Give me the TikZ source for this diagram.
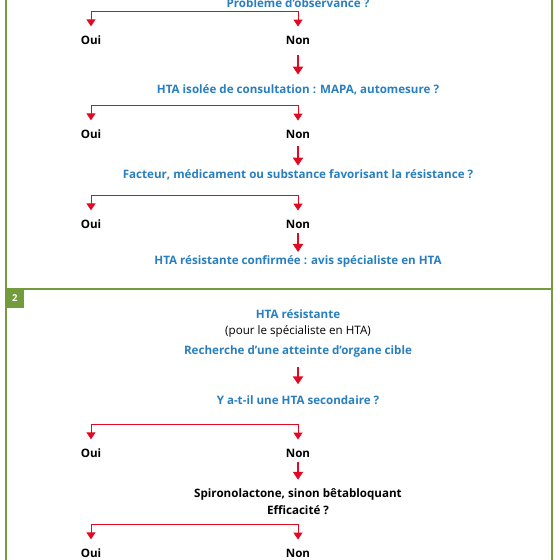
\documentclass[tikz,border=0pt]{standalone}
\usepackage{fontspec}
\setmainfont{Open Sans}
\usepackage{xcolor}
\usepackage{tikz}
\usetikzlibrary{arrows.meta,calc}
\definecolor{htablue}{RGB}{40,126,190}
\definecolor{htared}{RGB}{226,10,35}
\definecolor{htagreen}{RGB}{114,156,60}
\tikzset{>={Triangle[width=9pt,length=7pt]}}
\tikzset{
  question/.style={font=\fontsize{11.6}{13}\selectfont\bfseries,text=htablue,inner sep=0pt},
  answer/.style={font=\fontsize{11.6}{13}\selectfont\bfseries,inner sep=0pt},
  remark/.style={font=\fontsize{11.6}{13}\selectfont,inner sep=0pt},
  fork/.style={color=htared,line width=1pt,->,shorten >=9pt},
  bigarrow/.style={color=htared,line width=2.6pt,-{Triangle[width=10pt,length=8pt]}},
  frame/.style={draw=htagreen,line width=1.6pt}
}

\begin{document}
\begin{tikzpicture}[x=1pt,y=1pt,node distance=207pt]
  \useasboundingbox (0,0) rectangle (560,-560);
  \draw[frame] (6,20) rectangle (552,-289);
  \draw[frame] (6,-289) rectangle (552,-590);
  \node[fill=htagreen,text=white,font=\fontsize{9.5}{10}\selectfont\bfseries,minimum size=18.5pt,inner sep=0pt,anchor=north west] (Two) at (5.5,-289) {2};
  % section 1
  \node[question] (Observance) at (298,-3) {Problème d’observance ?};
  \node[answer,below of=Observance,node distance=37pt] (Non1) {Non};
  \node[answer,left of=Non1] (Oui1) {Oui};
  \node[question,below of=Non1,node distance=50pt] (Isolee) {HTA isolée de consultation : MAPA, automesure ?};
  \node[answer,below of=Isolee,node distance=44pt] (Non2) {Non};
  \node[answer,left of=Non2] (Oui2) {Oui};
  \node[question,below of=Non2,node distance=41pt] (Facteur) {Facteur, médicament ou substance favorisant la résistance ?};
  \node[answer,below of=Facteur,node distance=49pt] (Non3) {Non};
  \node[answer,left of=Non3] (Oui3) {Oui};
  \node[question,below of=Non3,node distance=37pt] (Confirmee) {HTA résistante confirmée : avis spécialiste en HTA};
  % section 2
  \node[question] (Resistante) at (298,-314) {HTA résistante};
  \node[remark,below of=Resistante,node distance=17pt] (Specialiste) {(pour le spécialiste en HTA)};
  \node[question,below of=Specialiste,node distance=20pt] (Organe) {Recherche d’une atteinte d’organe cible};
  \node[question,below of=Organe,node distance=49pt] (Secondaire) {Y a-t-il une HTA secondaire ?};
  \node[answer,below of=Secondaire,node distance=53pt] (Non5) {Non};
  \node[answer,left of=Non5] (Oui5) {Oui};
  \node[answer,below of=Non5,node distance=50pt] (Spiro) {\begin{tabular}{@{}c@{}}Spironolactone, sinon bêtabloquant\\[4pt]Efficacité ?\end{tabular}};
  \node[answer,below of=Spiro,node distance=50pt] (Non6) {Non};
  \node[answer,left of=Non6] (Oui6) {Oui};
  % forks
  \coordinate (F1) at ($(Non1)+(0,29)$);
  \draw[fork] (F1) -| (Oui1);
  \draw[fork] (F1) -- (Non1);
  \coordinate (F2) at ($(Non2)+(0,29)$);
  \draw[fork] (F2) -| (Oui2);
  \draw[fork] (F2) -- (Non2);
  \coordinate (F3) at ($(Non3)+(0,29)$);
  \draw[fork] (F3) -| (Oui3);
  \draw[fork] (F3) -- (Non3);
  \coordinate (F5) at ($(Non5)+(0,29)$);
  \draw[fork] (F5) -| (Oui5);
  \draw[fork] (F5) -- (Non5);
  \coordinate (F6) at ($(Non6)+(0,29)$);
  \draw[fork] (F6) -| (Oui6);
  \draw[fork] (F6) -- (Non6);
  % steps
  \draw[bigarrow,shorten <=11pt,shorten >=10pt] (Non1) -- (Isolee);
  \draw[bigarrow,shorten <=8pt,shorten >=4pt] (Non2) -- (Facteur);
  \draw[bigarrow,shorten <=5pt,shorten >=3pt] (Non3) -- (Confirmee);
  \draw[bigarrow,shorten <=10pt,shorten >=11pt] (Organe) -- (Secondaire);
  \draw[bigarrow,shorten <=5pt,shorten >=8pt] (Non5) -- (Spiro);
\end{tikzpicture}
\end{document}
